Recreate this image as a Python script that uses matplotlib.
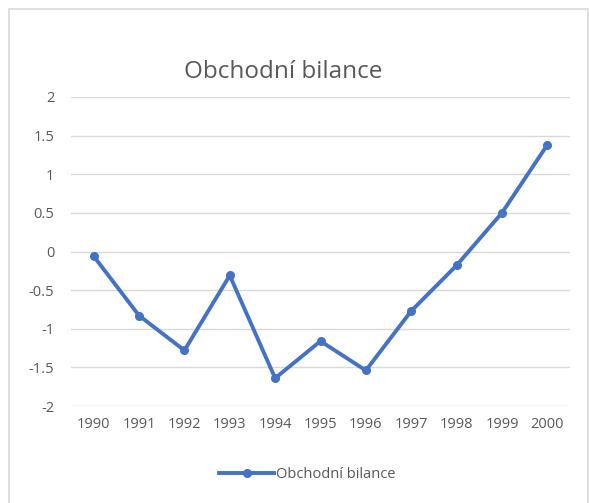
# -*- coding: utf-8 -*-

import matplotlib.pyplot as plt
from matplotlib.patches import Rectangle

# data
years = ['1990', '1991', '1992', '1993', '1994', '1995',
         '1996', '1997', '1998', '1999', '2000']
bilance = [-0.06, -0.83, -1.28, -0.31, -1.64, -1.16,
           -1.54, -0.77, -0.18, 0.50, 1.38]
yticks = [-2, -1.5, -1, -0.5, 0, 0.5, 1, 1.5, 2]
ylabels = ['-2', '-1.5', '-1', '-0.5', '0', '0.5', '1', '1.5', '2']

blue = '#4472C4'
grey = '#595959'
plt.rcParams['font.family'] = ['Open Sans', 'DejaVu Sans']

fig = plt.figure(figsize=(5.89, 5.03), dpi=100)

# chart frame
fig.patches.append(Rectangle((9 / 589, -0.02), 579 / 589, 1 - 9 / 503 + 0.02,
                             transform=fig.transFigure, fill=False,
                             edgecolor='#D9D9D9', linewidth=1.2))

ax = fig.add_axes([71 / 589, 97 / 503, 499 / 589, 309 / 503])
x = list(range(len(years)))
line, = ax.plot(x, bilance, color=blue, linewidth=2.8, marker='o',
                markersize=5.5, label='Obchodní bilance', clip_on=False)

ax.set_xlim(-0.5, len(years) - 0.5)
ax.set_ylim(-2, 2)
ax.set_yticks(yticks)
ax.set_yticklabels(ylabels)
ax.set_xticks(x)
ax.set_xticklabels(years)
ax.grid(axis='y', color='#D9D9D9', linewidth=1)
ax.set_axisbelow(True)
for s in ax.spines.values():
    s.set_visible(False)
ax.tick_params(length=0, labelsize=10.5, labelcolor=grey)
ax.tick_params(axis='y', pad=12)
ax.tick_params(axis='x', pad=8)

fig.text(283 / 589, 1 - 72 / 503, 'Obchodní bilance', ha='center',
         va='center', fontsize=17.5, color=grey)

fig.legend(handles=[line], loc='center', bbox_to_anchor=(307 / 589, 1 - 475 / 503),
           frameon=False, fontsize=10.5, labelcolor=grey, handlelength=3.8,
           handletextpad=0.1)

fig.savefig('out.png', dpi=100)
